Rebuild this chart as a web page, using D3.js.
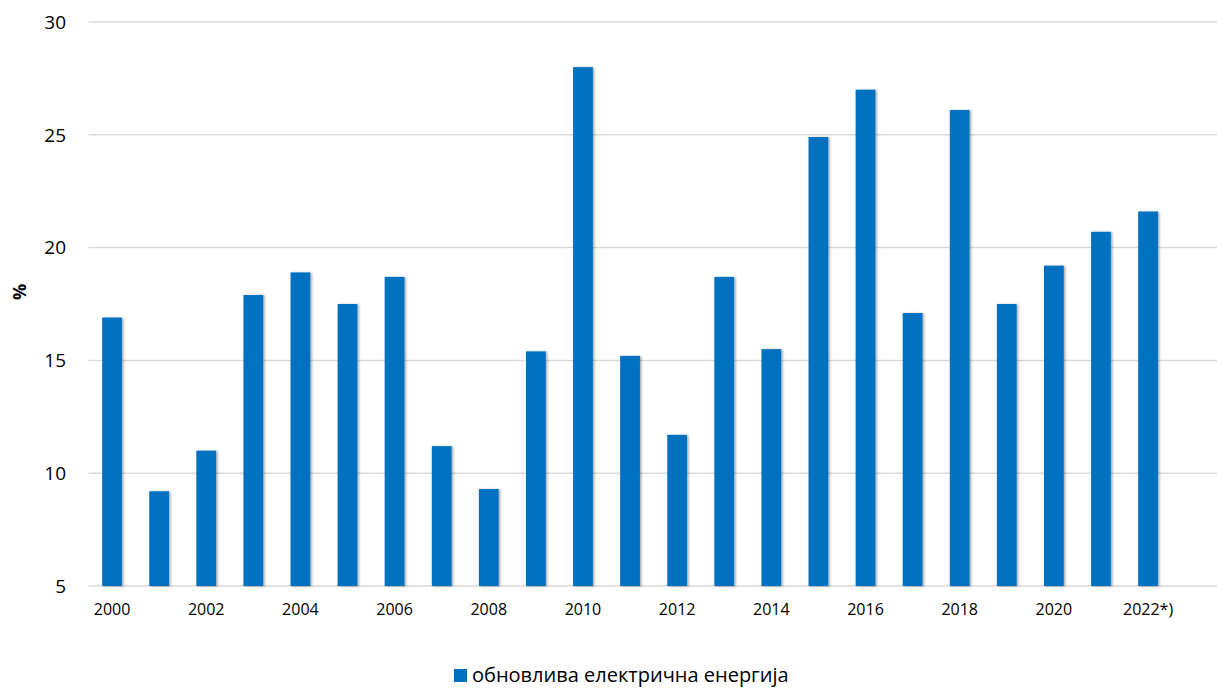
<!DOCTYPE html>
<html>
<head>
<meta charset="utf-8">
<script src="https://cdn.jsdelivr.net/npm/d3@7/dist/d3.min.js"></script>
<style>
  html, body { margin: 0; padding: 0; background: #fff; }
  svg { display: block; font-family: "Open Sans", "Liberation Sans", sans-serif; }
</style>
</head>
<body>
<svg id="chart" width="1217" height="688"></svg>
<script>
const years = ["2000","2001","2002","2003","2004","2005","2006","2007","2008","2009","2010",
  "2011","2012","2013","2014","2015","2016","2017","2018","2019","2020","2021","2022*)"];
const renewableShare = [16.9, 9.2, 11.0, 17.9, 18.9, 17.5, 18.7, 11.2, 9.3, 15.4, 28.0,
  15.2, 11.7, 18.7, 15.5, 24.9, 27.0, 17.1, 26.1, 17.5, 19.2, 20.7, 21.6];
const yTicks = [5, 10, 15, 20, 25, 30];
const seriesName = "обновлива електрична енергија";
const yLabel = "%";

const svg = d3.select("#chart");
const plotLeft = 88.5, plotRight = 1171.6, gridRight = 1217, plotTop = 22, plotBottom = 586;

const x = d3.scaleBand().domain(years).range([plotLeft, plotRight]).paddingInner(0.58).paddingOuter(0.29);
const y = d3.scaleLinear().domain([5, 30]).range([plotBottom, plotTop]);

const defs = svg.append("defs");
const f = defs.append("filter").attr("id", "shadow").attr("x", "-20%").attr("y", "-5%").attr("width", "160%").attr("height", "110%");
f.append("feDropShadow").attr("dx", 1.5).attr("dy", 0.5).attr("stdDeviation", 1.2)
  .attr("flood-color", "#000").attr("flood-opacity", 0.35);

// horizontal gridlines
svg.append("g").selectAll("line").data(yTicks).join("line")
  .attr("x1", plotLeft).attr("x2", gridRight)
  .attr("y1", d => y(d)).attr("y2", d => y(d))
  .attr("stroke", "#d9d9d9").attr("stroke-width", 1.5);

// y tick labels
svg.append("g").selectAll("text").data(yTicks).join("text")
  .attr("x", 66).attr("y", d => y(d)).attr("dy", "0.36em")
  .attr("text-anchor", "end").attr("font-size", 19).attr("fill", "#000")
  .text(d => d);

// bars
svg.append("g").attr("filter", "url(#shadow)").selectAll("rect").data(renewableShare).join("rect")
  .attr("x", (d, i) => x(years[i]))
  .attr("width", x.bandwidth())
  .attr("y", d => y(d))
  .attr("height", d => y(5) - y(d))
  .attr("fill", "#0070C0");

// x tick labels (every second year)
svg.append("g").selectAll("text").data(years.filter((d, i) => i % 2 === 0)).join("text")
  .attr("x", d => x(d) + x.bandwidth() / 2).attr("y", 615)
  .attr("text-anchor", "middle").attr("font-size", 16).attr("fill", "#000")
  .text(d => d);

// y axis title
svg.append("text")
  .attr("transform", "translate(26, 292) rotate(-90)")
  .attr("text-anchor", "middle").attr("font-size", 18).attr("font-weight", "bold")
  .text(yLabel);

// legend
const lg = svg.append("g").attr("transform", "translate(454, 669)");
lg.append("rect").attr("width", 13).attr("height", 13).attr("fill", "#0070C0");
lg.append("text").attr("x", 18).attr("y", 13).attr("font-size", 20).attr("fill", "#000").text(seriesName);
</script>
</body>
</html>
